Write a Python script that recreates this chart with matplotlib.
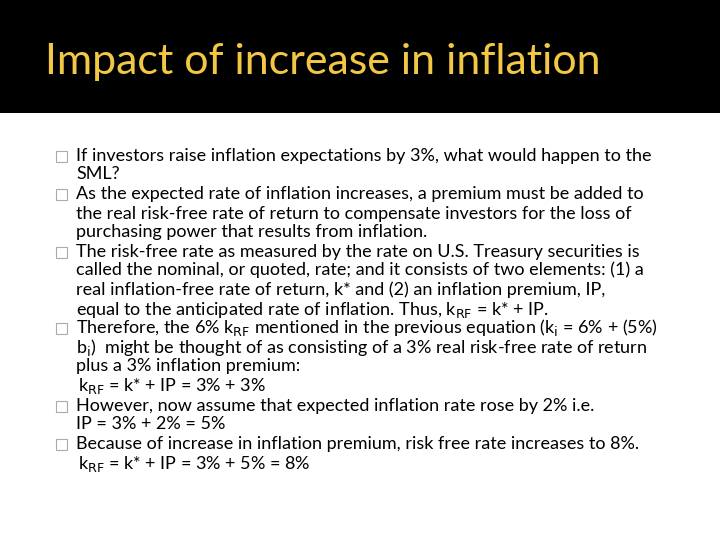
import matplotlib.pyplot as plt
from matplotlib.patches import Rectangle

title = "Impact of increase in inflation"

# (y pixel, x pixel, text, bullet?)
body_lines = [
    (156, 76, "If investors raise inflation expectations by 3%, what would happen to the", True),
    (174, 76, "SML?", False),
    (194, 76, "As the expected rate of inflation increases, a premium must be added to", True),
    (214, 76, "the real risk-free rate of return to compensate investors for the loss of", False),
    (232, 76, "purchasing power that results from inflation.", False),
    (252, 76, "The risk-free rate as measured by the rate on U.S. Treasury securities is", True),
    (270, 76, "called the nominal, or quoted, rate; and it consists of two elements: (1) a", False),
    (290, 76, "real inflation-free rate of return, k* and (2) an inflation premium, IP,", False),
    (310, 76, "equal to the anticipated rate of inflation. Thus, k$_{\\rm RF}$ = k* + IP.", False),
    (328, 76, "Therefore, the 6% k$_{\\rm RF}$ mentioned in the previous equation (k$_{\\rm i}$ = 6% + (5%)", True),
    (348, 76, "b$_{\\rm i}$)  might be thought of as consisting of a 3% real risk-free rate of return", False),
    (366, 76, "plus a 3% inflation premium:", False),
    (386, 78, "k$_{\\rm RF}$ = k* + IP = 3% + 3%", False),
    (406, 76, "However, now assume that expected inflation rate rose by 2% i.e.", True),
    (424, 76, "IP = 3% + 2% = 5%", False),
    (444, 76, "Because of increase in inflation premium, risk free rate increases to 8%.", True),
    (464, 78, "k$_{\\rm RF}$ = k* + IP = 3% + 5% = 8%", False),
]

W, H = 720, 540
fig = plt.figure(figsize=(7.2, 5.4), dpi=100)
fig.patch.set_facecolor("white")

fig.patches.append(Rectangle((0, 1 - 113 / H), 1, 113 / H, transform=fig.transFigure,
                             facecolor="black", edgecolor="none", zorder=0))
fig.text(45 / W, 1 - 62 / H, title, color="#f2c744", fontsize=31,
         family="Lato", va="center", ha="left")

for y, x, txt, bullet in body_lines:
    if bullet:
        fig.patches.append(Rectangle((56 / W, 1 - (y + 6) / H), 11 / W, 11 / H,
                                     transform=fig.transFigure, facecolor="white",
                                     edgecolor="#aaaaaa", lw=0.8))
    fig.text(x / W, 1 - y / H, txt, color="black", fontsize=13,
             family="Lato", va="center", ha="left")

fig.savefig("out.png", dpi=100)
